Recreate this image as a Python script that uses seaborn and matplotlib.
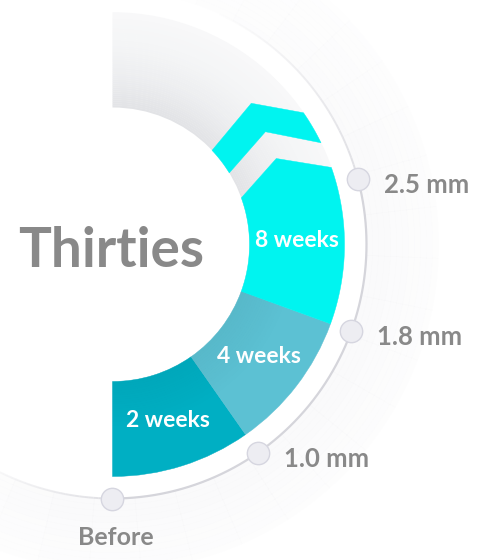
import numpy as np
import matplotlib
matplotlib.use("Agg")
import matplotlib.pyplot as plt
from matplotlib.patches import Polygon
import seaborn as sns

# ---------------- data ----------------
title = "Thirties"
stages = ["Before", "1.0 mm", "1.8 mm", "2.5 mm"]
periods = ["2 weeks", "4 weeks", "8 weeks"]
period_from = [0, 1, 2]          # stage index where each period starts
period_to = [1, 2, 3]            # stage index where each period ends
period_colors = ["#00AFC3", "#5CC1D3", "#00F4F0"]

# ---------------- style ----------------
sns.set_theme(style="white")
plt.rcParams["font.family"] = ["Lato", "DejaVu Sans"]
TXT_GRAY = "#898989"

W, H, DPI = 482, 560, 100
CX, CY = 112.5, 244.5          # pixel centre of the dial
RMAX = 340
R_IN, R_OUT = 137, 232
R_RING = 254
R_HALO = 326
STEP = np.deg2rad(35)          # angular size of one stage
d = np.deg2rad

def ang(stage):
    return np.asarray(stage, dtype=float) * STEP

fig = plt.figure(figsize=(W / DPI, H / DPI), dpi=DPI)
fig.patch.set_facecolor("white")
ax = fig.add_axes([(CX - RMAX) / W, (H - CY - RMAX) / H, 2 * RMAX / W, 2 * RMAX / H],
                  projection="polar")
ax.set_theta_zero_location("S")
ax.set_theta_direction(1)
ax.set_rlim(0, RMAX)
ax.axis("off")

# faint halo outside the ring (shadow falling to the lower right)
halo_n = 24
halo_r = 12
halo_edges = np.linspace(d(-50), d(170), halo_n + 1)
halo_redges = np.linspace(R_RING, R_HALO, halo_r + 1)
for i in range(halo_n):
    w = min(1.0, (i + 1) / 5, (halo_n - i) / 7)
    for j in range(halo_r):
        ax.bar(halo_edges[i], halo_redges[j + 1] - halo_redges[j] + 0.3,
               width=halo_edges[i + 1] - halo_edges[i] + 0.002,
               bottom=halo_redges[j], align="edge", color="#F1F1F4",
               alpha=0.35 * w * (1 - 0.7 * j / halo_r), linewidth=0, zorder=0)

# grey track with a soft inner shadow
tr_n = 48
tr_cols = sns.blend_palette(["#E2E3E6", "#EDEEF0", "#F4F5F6", "#F8F8F9"], n_colors=tr_n)
tr_edges = np.linspace(R_IN, R_OUT, tr_n + 1)
for i in range(tr_n):
    ax.bar(np.pi / 2, tr_edges[i + 1] - tr_edges[i] + 0.3, width=np.pi,
           bottom=tr_edges[i], color=tr_cols[i], linewidth=0, zorder=1)

def arc(t0, t1, r, n=80):
    t = np.linspace(t0, t1, n)
    return np.column_stack([t, np.full(n, r)])

th_end = float(ang(period_to[-1]))
# chevron cut lines (outer point, apex, inner point), relative to last stage
cutA = [(th_end + d(4.4), R_OUT), (th_end + d(12.7), 185), (th_end + d(4.9), R_IN)]
cutB = [(th_end + d(11.0), R_OUT), (th_end + d(21.4), 190), (th_end + d(16.5), R_IN)]
cutC = [(th_end + d(19.6), R_OUT), (th_end + d(30.5), 198), (th_end + d(28.4), R_IN)]
cutA_mid = np.mean([p[0] for p in cutA])

# coloured periods
for lab, a, b, col in zip(periods, period_from, period_to, period_colors):
    t0, t1 = float(ang(a)), float(ang(b))
    if b == period_to[-1]:
        verts = np.vstack([arc(t0, cutA[2][0], R_IN),
                           np.array(cutA[::-1]),
                           arc(cutA[0][0], t0, R_OUT)])
        ax.add_patch(Polygon(verts, closed=True, facecolor=col, edgecolor=col,
                             linewidth=0.3, zorder=2))
        t1 = cutA_mid
    else:
        ax.bar(t0, R_OUT - R_IN, width=t1 - t0, bottom=R_IN, align="edge",
               color=col, edgecolor=col, linewidth=0.3, zorder=2)
    ax.text((t0 + t1) / 2, (R_IN + R_OUT) / 2, lab, ha="center", va="center",
            color="white", fontsize=16.5, fontweight="bold", zorder=6)

# arrow band continuing beyond the last stage
verts = np.vstack([arc(cutB[2][0], cutC[2][0], R_IN),
                   np.array(cutC[::-1]),
                   arc(cutC[0][0], cutB[0][0], R_OUT),
                   np.array(cutB)])
ax.add_patch(Polygon(verts, closed=True, facecolor=period_colors[-1],
                     edgecolor=period_colors[-1], linewidth=0.3, zorder=2))

# subtle inner shadow on the lower periods
sh_n = 20
sh_edges = np.linspace(R_IN, R_IN + 45, sh_n + 1)
for i in range(sh_n):
    ax.bar(0, sh_edges[i + 1] - sh_edges[i], width=float(ang(period_to[1])),
           bottom=sh_edges[i], align="edge", color="black",
           alpha=0.04 * (1 - i / sh_n), linewidth=0, zorder=3)

# progress ring
t = np.linspace(0, th_end, 200)
ax.plot(t, np.full_like(t, R_RING), color="#D5D5DB", lw=1.6, zorder=4)
n_fade = 30
fade_up = np.linspace(th_end, th_end + d(50), n_fade + 1)
for i in range(n_fade):
    ax.plot(fade_up[i:i + 2], [R_RING, R_RING], color="#DCDCE1", lw=1.4,
            alpha=0.9 * (1 - i / n_fade), zorder=4, solid_capstyle="butt")
fade_dn = np.linspace(0, -d(32), n_fade + 1)
for i in range(n_fade):
    ax.plot(fade_dn[i:i + 2], [R_RING, R_RING], color="#DCDCE1", lw=1.4,
            alpha=0.9 * (1 - i / n_fade), zorder=4, solid_capstyle="butt")

# stage markers and labels
st_th = ang(np.arange(len(stages)))
ax.scatter(st_th, np.full(len(stages), R_RING), s=260, color="#EDEDF2",
           edgecolors="#D6D6E0", linewidths=1.0, zorder=5)
px = 0.72
for i, (lab, th) in enumerate(zip(stages, st_th)):
    if i == 0:
        ax.annotate(lab, (th, R_RING), xytext=(3 * px, -39 * px), textcoords="offset points",
                    ha="center", va="center", color=TXT_GRAY, fontsize=18,
                    fontweight="bold", zorder=6)
    else:
        ax.annotate(lab, (th, R_RING), xytext=(26 * px, -6 * px), textcoords="offset points",
                    ha="left", va="center", color=TXT_GRAY, fontsize=18.5,
                    fontweight="bold", zorder=6)

# centre title
ax.annotate(title, (0, 0), xytext=(-1 * px, -22.5 * px), textcoords="offset points",
            ha="center", va="baseline", color=TXT_GRAY, fontsize=39.5,
            fontweight="bold", zorder=6)

fig.savefig("out.png", dpi=DPI, facecolor="white")
